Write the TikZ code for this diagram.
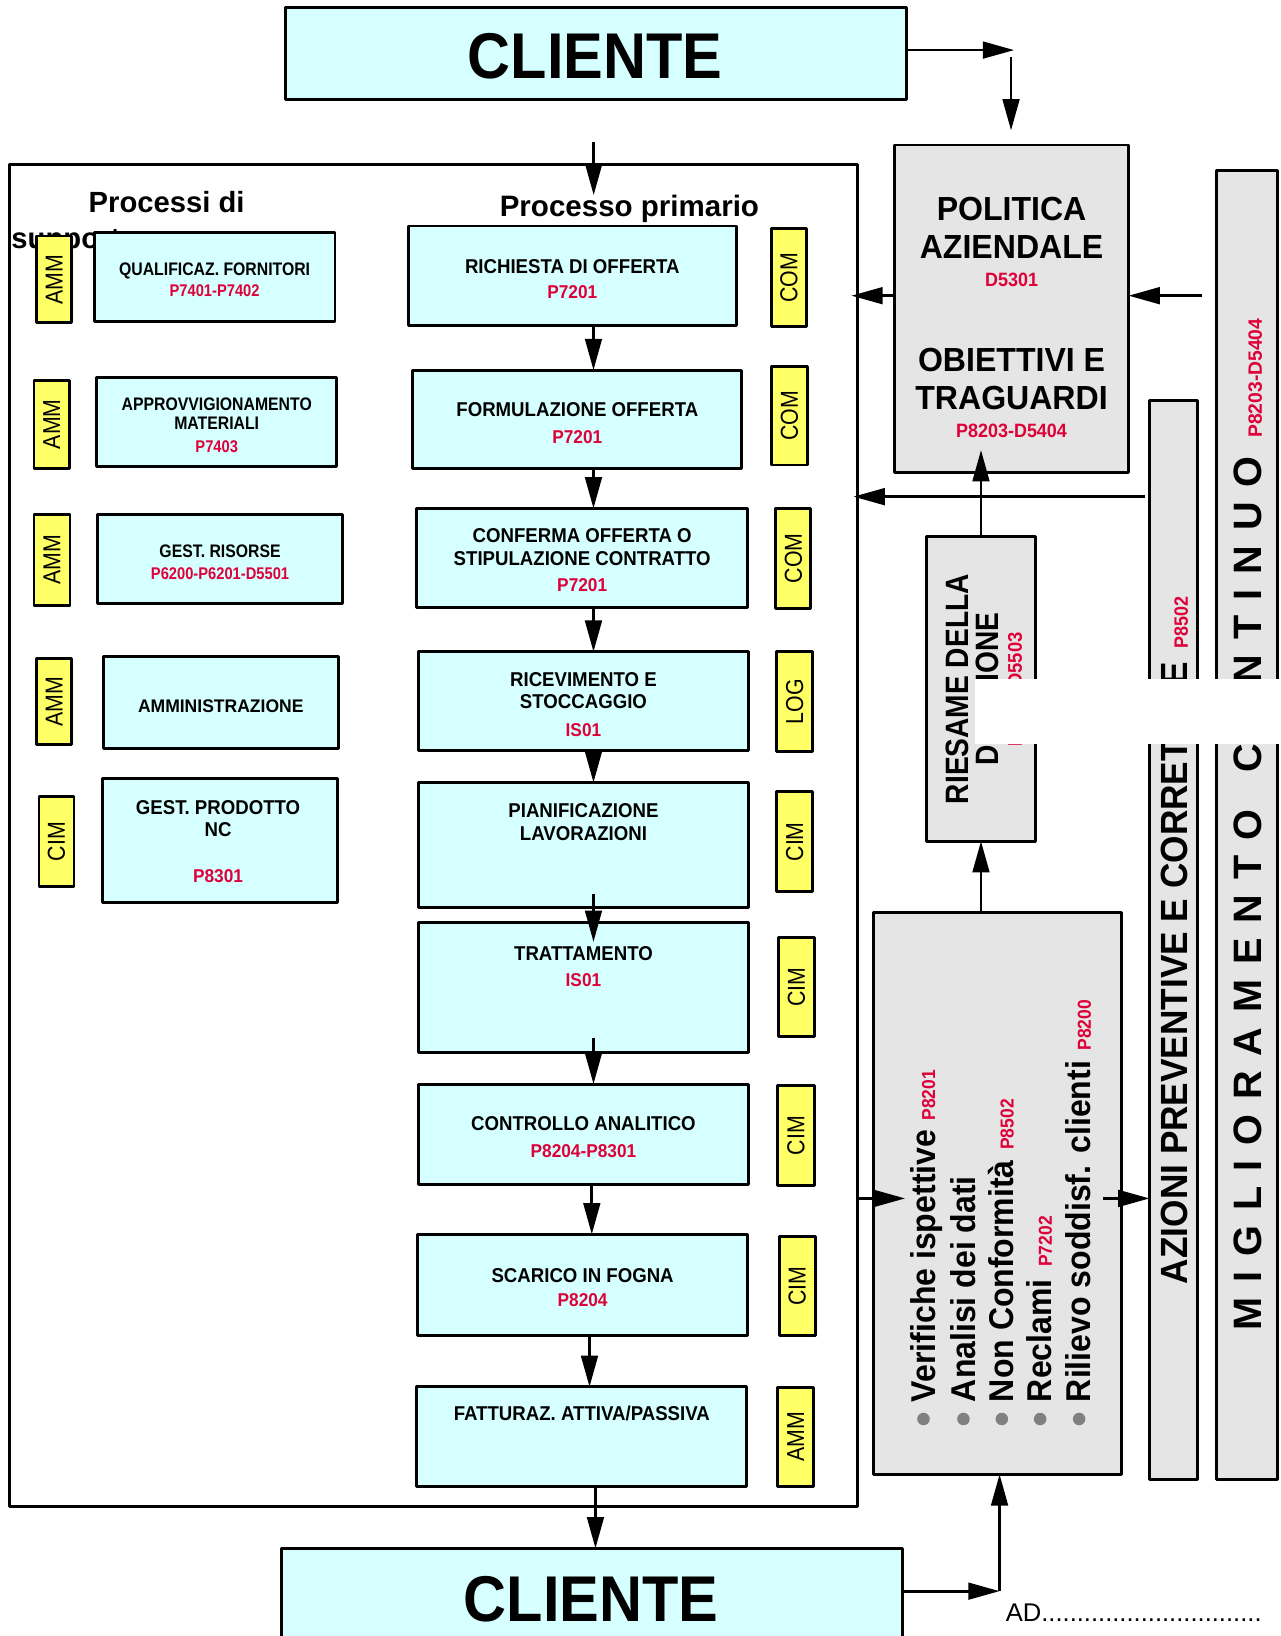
\documentclass[tikz,border=0pt]{standalone}
\usepackage{fontspec}
\setmainfont{Liberation Sans}
\newfontfamily\famPri[FakeStretch=0.93]{Liberation Sans}
\newfontfamily\famSup[FakeStretch=0.87]{Liberation Sans}
\newfontfamily\famCli[FakeStretch=0.92]{Liberation Sans}
\newfontfamily\famRie[FakeStretch=0.87]{Liberation Sans}
\newfontfamily\famVer[FakeStretch=0.93]{Liberation Sans}
\newfontfamily\famPol[FakeStretch=0.96]{Liberation Sans}
\usetikzlibrary{arrows.meta,fit}
\definecolor{cyanf}{RGB}{214,255,255}
\definecolor{yelf}{RGB}{255,255,102}
\definecolor{grayf}{RGB}{229,229,229}
\definecolor{redc}{RGB}{222,0,56}
\definecolor{bulc}{RGB}{128,128,128}
\newcommand\setfs[1]{\fontsize{#1}{#1}\selectfont}
\newcommand\priT{\famPri\bfseries\setfs{19.2}}
\newcommand\priC{\famPri\bfseries\setfs{17.8}\color{redc}}
\newcommand\supT{\famSup\bfseries\setfs{17.4}}
\newcommand\supC{\famSup\bfseries\setfs{16.2}\color{redc}}
\newcommand\tagT{\famSup\setfs{23.5}}
\newcommand\polT{\famPol\bfseries\setfs{32}}
\newcommand\polC{\famPri\bfseries\setfs{18.5}\color{redc}}
\newcommand\verT{\famVer\bfseries\setfs{33}}
\newcommand\verC{\famVer\bfseries\setfs{18}\color{redc}}
\newcommand\gp{\hspace{14.3pt}}
\begin{document}
\begin{tikzpicture}[x=1pt,y=-1pt,
  tx/.style={inner sep=0pt,outer sep=0pt,anchor=base},
  bx/.style={draw,line width=2.8pt,inner sep=0pt,outer sep=0pt,line join=round},
  pbox/.style={bx,fill=cyanf},
  tagbox/.style={bx,fill=yelf},
  gbox/.style={bx,fill=grayf},
  arr/.style={line width=2.6pt,-{Triangle[length=30pt,width=16pt]}}]
\useasboundingbox (0,0) rectangle (1227,1568);

% ---- headings under boxes
\node[tx,anchor=base west] (hsup1) at (85,204) {\bfseries\setfs{28}Processi di};
\node[tx,anchor=base west] (hsup2) at (11,238) {\bfseries\setfs{28}supporto};
\node[tx,anchor=base west] (hpri) at (479,207.7) {\bfseries\setfs{28.3}Processo primario};

% ---- outer frame
\node[bx,fit={(9,158) (822,1443.5)}] (main) {};

% ---- top client
\node[pbox,fit={(274,7) (869,95)}] (cli1) {};
\node[tx] (cli1t) at (570.5,75.1) {\famCli\bfseries\setfs{62}CLIENTE};

% ---- primary process
\node[pbox,fit={(391.4,216.6) (705.5,312.2)}] (rich) {};
\node[tx] (richt) at (548.5,262) {\priT RICHIESTA DI OFFERTA};
\node[tx] (richc) at (548.5,286) {\priC P7201};
\node[pbox,fit={(395.6,354.7) (711,449)}] (form) {};
\node[tx] (formt) at (553.3,398.8) {\priT FORMULAZIONE OFFERTA};
\node[tx] (formc) at (553.3,425) {\priC P7201};
\node[pbox,fit={(399.4,487.3) (716.7,582.5)}] (conf) {};
\node[tx] (conft1) at (558,520.2) {\priT CONFERMA OFFERTA O};
\node[tx] (conft2) at (558,541.6) {\priT STIPULAZIONE CONTRATTO};
\node[tx] (confc) at (558,567.2) {\priC P7201};
\node[pbox,fit={(401,624.7) (717.3,719.6)}] (ricev) {};
\node[tx] (ricevt1) at (559.2,658.2) {\priT RICEVIMENTO E};
\node[tx] (ricevt2) at (559.2,679) {\priT STOCCAGGIO};
\node[tx] (ricevc) at (559.2,705.5) {\priC IS01};
\node[pbox,fit={(401,750) (717.3,869.7)}] (pianif) {};
\node[tx] (pianift1) at (559.2,783.5) {\priT PIANIFICAZIONE};
\node[tx] (pianift2) at (559.2,805.2) {\priT LAVORAZIONI};
\node[pbox,fit={(401,884.4) (717.3,1009)}] (tratt) {};
\node[tx] (trattt) at (559.2,920.2) {\priT TRATTAMENTO};
\node[tx] (trattc) at (559.2,945.8) {\priC IS01};
\node[pbox,fit={(401,1039) (717.3,1135)}] (contr) {};
\node[tx] (contrt) at (559.2,1083.8) {\priT CONTROLLO ANALITICO};
\node[tx] (contrc) at (559.2,1109.4) {\priC P8204-P8301};
\node[pbox,fit={(400,1183) (716.7,1279.7)}] (scar) {};
\node[tx] (scart) at (558.4,1229.5) {\priT SCARICO IN FOGNA};
\node[tx] (scarc) at (558.4,1252.5) {\priC P8204};
\node[pbox,fit={(399.4,1329.2) (715.8,1424.5)}] (fatt) {};
\node[tx] (fattt) at (557.6,1361.2) {\priT FATTURAZ. ATTIVA/PASSIVA};

% ---- tags right
\node[tagbox,fit={(739,218.9) (773.3,313.1)}] (tc1) {};
\node[tx,rotate=90,anchor=center] (tc1t) at (tc1.center) {\tagT COM};
\node[tagbox,fit={(739.7,351.5) (773.6,445.7)}] (tc2) {};
\node[tx,rotate=90,anchor=center] (tc2t) at (tc2.center) {\tagT COM};
\node[tagbox,fit={(743.6,487.3) (777.1,583.1)}] (tc3) {};
\node[tx,rotate=90,anchor=center] (tc3t) at (tc3.center) {\tagT COM};
\node[tagbox,fit={(744.5,624.7) (779,720)}] (tl1) {};
\node[tx,rotate=90,anchor=center] (tl1t) at (tl1.center) {\tagT LOG};
\node[tagbox,fit={(744.5,759) (779,854.7)}] (ti1) {};
\node[tx,rotate=90,anchor=center] (ti1t) at (ti1.center) {\tagT CIM};
\node[tagbox,fit={(746,898.5) (780.6,993.7)}] (ti2) {};
\node[tx,rotate=90,anchor=center] (ti2t) at (ti2.center) {\tagT CIM};
\node[tagbox,fit={(745.5,1040) (780.3,1136.6)}] (ti3) {};
\node[tx,rotate=90,anchor=center] (ti3t) at (ti3.center) {\tagT CIM};
\node[tagbox,fit={(746.7,1185.5) (781.3,1279.7)}] (ti4) {};
\node[tx,rotate=90,anchor=center] (ti4t) at (ti4.center) {\tagT CIM};
\node[tagbox,fit={(745.5,1329.9) (779.7,1424.5)}] (ta9) {};
\node[tx,rotate=90,anchor=center] (ta9t) at (ta9.center) {\tagT AMM};

% ---- support processes
\node[tagbox,fit={(35.1,226.2) (68.7,309.3)}] (sa1) {};
\node[tx,rotate=90,anchor=center] (sa1t) at (sa1.center) {\tagT AMM};
\node[pbox,fit={(90.4,223) (321.1,308.3)}] (qual) {};
\node[tx] (qualt) at (205.7,263.6) {\supT QUALIFICAZ. FORNITORI};
\node[tx] (qualc) at (205.7,284.4) {\supC P7401-P7402};
\node[tagbox,fit={(32.6,364.3) (66.5,449)}] (sa2) {};
\node[tx,rotate=90,anchor=center] (sa2t) at (sa2.center) {\tagT AMM};
\node[pbox,fit={(92.7,361.7) (322.7,446.7)}] (appr) {};
\node[tx] (apprt1) at (207.7,393) {\supT APPROVVIGIONAMENTO};
\node[tx] (apprt2) at (207.7,411.5) {\supT MATERIALI};
\node[tx] (apprc) at (207.7,434) {\supC P7403};
\node[tagbox,fit={(32.6,492.7) (67.1,580.6)}] (sa3) {};
\node[tx,rotate=90,anchor=center] (sa3t) at (sa3.center) {\tagT AMM};
\node[pbox,fit={(93.3,493.4) (328.5,578.3)}] (gest) {};
\node[tx] (gestt) at (210.9,534.2) {\supT GEST. RISORSE};
\node[tx] (gestc) at (210.9,555.3) {\supC P6200-P6201-D5501};
\node[tagbox,fit={(35.1,631) (68.7,713.5)}] (sa4) {};
\node[tx,rotate=90,anchor=center] (sa4t) at (sa4.center) {\tagT AMM};
\node[pbox,fit={(99,628.8) (324.3,717.3)}] (ammin) {};
\node[tx] (ammint) at (211.6,683.2) {\famPol\bfseries\setfs{17.5}AMMINISTRAZIONE};
\node[tagbox,fit={(37.4,763.7) (70.9,849.3)}] (sc1) {};
\node[tx,rotate=90,anchor=center] (sc1t) at (sc1.center) {\tagT CIM};
\node[pbox,fit={(98.1,746.1) (323.7,865)}] (gpnc) {};
\node[tx] (gpnct1) at (209,780.3) {\priT GEST. PRODOTTO};
\node[tx] (gpnct2) at (209,801.4) {\priT NC};
\node[tx] (gpncc) at (209,845.8) {\priC P8301};

% ---- right column
\node[gbox,fit={(857.3,139) (1081.6,453.1)}] (pol) {};
\node[tx] (polt1) at (969.5,211.5) {\polT POLITICA};
\node[tx] (polt2) at (969.5,247.6) {\polT AZIENDALE};
\node[tx] (polc1) at (969.5,274.8) {\polC D5301};
\node[tx] (polt3) at (969.5,356.3) {\polT OBIETTIVI E};
\node[tx] (polt4) at (969.5,392.4) {\polT TRAGUARDI};
\node[tx] (polc2) at (969.5,419.2) {\polC P8203-D5404};

\node[gbox,fit={(888.3,513.8) (992.1,806.2)}] (ries) {};
\node[tx,rotate=90] (riest1) at (928.2,660.5) {\famRie\bfseries\setfs{31}RIESAME DELLA};
\node[tx,rotate=90] (riest2) at (957,660.5) {\famRie\bfseries\setfs{31}DIREZIONE};
\node[tx,rotate=90] (riesc) at (979.4,660.5) {\famPri\bfseries\setfs{19}\color{redc}P5601-D5503};

\node[gbox,fit={(837.2,874.7) (1074.6,1413)}] (verif) {};
\foreach \bxx/\nm/\txt in {896.3/v1/{Verifiche ispettive\hspace{9pt}{\verC P8201}},
                        934.6/v2/{Analisi dei dati},
                        971.4/v3/{Non Conformità\hspace{10pt}{\verC P8502}},
                        1008.1/v4/{Reclami\hspace{12pt}{\verC P7202}},
                        1045.5/v5/{Rilievo soddisf. clienti\hspace{10pt}{\verC P8200}}}{
  \node[tx,rotate=90,anchor=base west] (\nm) at (\bxx,1343.8) {\verT \txt};
  \fill[bulc] (\bxx-11.2,1360) circle[radius=6pt];
}

\node[gbox,fit={(1101.7,384) (1147.7,1418)}] (azio) {};
\node[tx,rotate=90,anchor=base west] (aziot) at (1138.5,1230.7) {\famVer\bfseries\setfs{36.3}AZIONI PREVENTIVE E CORRETTIVE\hspace{13pt}{\famPri\setfs{18.5}\color{redc}P8502}};

\node[gbox,fit={(1165.7,163.6) (1224.8,1418)}] (migl) {};
\node[tx,rotate=90,anchor=base west] (miglt) at (1209.4,1275) {\bfseries\setfs{38}M\gp I\gp G\gp L\gp I\gp O\gp R\gp A\gp M\gp E\gp N\gp T\gp O\hspace{36pt}C\gp O\gp N\gp T\gp I\gp N\gp U\gp O\hspace{18pt}{\setfs{18.5}\color{redc}P8203-D5404}};

% ---- bottom client
\node[pbox,fit={(270,1484) (864.7,1600)}] (cli2) {};
\node[tx] (cli2t) at (566.4,1554.5) {\famCli\bfseries\setfs{62}CLIENTE};
\node[tx,anchor=base west] (ad) at (964,1554.5) {\setfs{24.5}AD...............................};

% ---- connectors
\coordinate (c1) at (972,48);
\coordinate (c1b) at (969,55);
\coordinate (a3s) at (569,136);
\coordinate (a3e) at (569,187);
\coordinate (fx) at (568.8,0);
\coordinate (fx2) at (567.2,0);
\coordinate (fx3) at (565,0);
\coordinate (fx4) at (570.7,0);
\draw[arr] (cli1.east |- c1) -- (c1);
\draw[arr] (c1b) -- ([yshift=14pt]pol.north -| c1b);
\draw[arr] (a3s) -- (a3e);
\draw[arr] (rich.south -| fx) -- (form.north -| fx);
\draw[arr] (form.south -| fx) -- (conf.north -| fx);
\draw[arr] (conf.south -| fx) -- (ricev.north -| fx);
\draw[arr] (ricev.south -| fx) -- (pianif.north -| fx);
\draw[arr] ([yshift=12.7pt]pianif.south -| fx) -- ([yshift=-18.3pt]tratt.north -| fx);
\draw[arr] ([yshift=14.6pt]tratt.south -| fx) -- (contr.north -| fx);
\draw[arr] (contr.south -| fx2) -- (scar.north -| fx2);
\draw[arr] (scar.south -| fx3) -- (fatt.north -| fx3);
\draw[arr] (fatt.south -| fx4) -- (cli2.north -| fx4);

\coordinate (pl) at (816,283.4);
\coordinate (pr) at (1152,283.4);
\coordinate (hs) at (1097,476);
\coordinate (he) at (818,476);
\coordinate (va) at (867.5,1148.6);
\coordinate (vb) at (1057,1148.6);
\coordinate (corner) at (958,1525);
\draw[arr] (pol.west |- pl) -- (pl);
\draw[arr] (pr) -- (pol.east |- pr);
\draw[arr] (hs) -- (he);
\draw[arr] (ries.north) -- ([yshift=21.7pt]pol.south -| ries.north);
\draw[arr] (verif.north -| ries.south) -- (ries.south);
\draw[arr] (main.east |- va) -- (va);
\draw[arr] (vb) -- (azio.west |- vb);
\draw[arr] (cli2.east |- corner) -- (corner);
\draw[arr] (corner) -- (verif.south -| corner);

% ---- white patch present in the reference
\fill[white] (934.6,650.9) rectangle (1227,713.5);
\end{tikzpicture}
\end{document}
